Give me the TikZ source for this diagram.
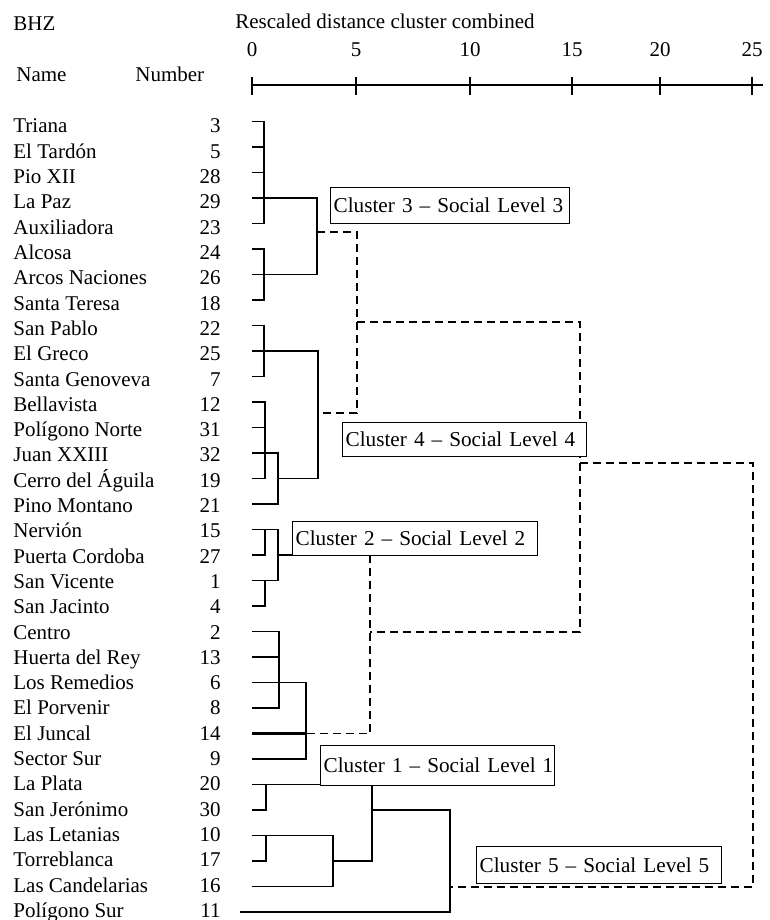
\documentclass[tikz,border=0pt]{standalone}
\usepackage{fontspec}
\setmainfont{Liberation Serif}
\begin{document}
\begin{tikzpicture}[x=0.5pt, y=-0.5pt, font=\fontsize{10.5pt}{12.5pt}\selectfont]
    % Styles
    \tikzstyle{headtext} = [anchor=base west, inner sep=0pt]
    \tikzstyle{ticklabel} = [anchor=base, inner sep=0pt]
    \tikzstyle{leafname} = [anchor=base west, inner sep=0pt]
    \tikzstyle{leafnum} = [anchor=base east, inner sep=0pt]
    \tikzstyle{clusterbox} = [rectangle, draw, fill=white, line width=0.7pt,
        anchor=north west, inner xsep=1.5pt, inner ysep=1pt, align=left,
        font=\fontsize{10.6pt}{12.5pt}\selectfont]
    \tikzstyle{dendro} = [line width=0.7pt]
    \tikzstyle{dendrojoin} = [line width=0.7pt, dash pattern=on 4pt off 2.5pt]

    \useasboundingbox (0,0) rectangle (770,920);

    % === HEADER ===
    \node [headtext] (bhz) at (13,31) {BHZ};
    \node [headtext] (title) at (235,29) {Rescaled distance cluster combined};
    \node [headtext] (namehead) at (16,82) {Name};
    \node [headtext] (numhead) at (135,82) {Number};

    % === SCALE ===
    \coordinate (axisstart) at (252,85);
    \coordinate (axisend) at (763,85);
    \draw [dendro] (axisstart) -- (axisend);
    \foreach \v/\x in {0/252, 5/356, 10/470, 15/572, 20/660, 25/752} {
        \node [ticklabel] (tick\v) at (\x,57) {\v};
        \draw [dendro] (\x,77) -- ++(0,18);
    }

    % === LEAVES: district name, number, start of branch ===
    \foreach \nm/\nr [count=\i] in {Triana/3, El Tardón/5, Pio XII/28, La Paz/29,
        Auxiliadora/23, Alcosa/24, Arcos Naciones/26, Santa Teresa/18,
        San Pablo/22, El Greco/25, Santa Genoveva/7, Bellavista/12,
        Polígono Norte/31, Juan XXIII/32, Cerro del Águila/19, Pino Montano/21,
        Nervión/15, Puerta Cordoba/27, San Vicente/1, San Jacinto/4,
        Centro/2, Huerta del Rey/13, Los Remedios/6, El Porvenir/8,
        El Juncal/14, Sector Sur/9, La Plata/20, San Jerónimo/30,
        Las Letanias/10, Torreblanca/17, Las Candelarias/16, Polígono Sur/11} {
        \node [leafname] (name\i) at (13,{133+25.3*(\i-1)}) {\nm};
        \node [leafnum] (num\i) at (221,{133+25.3*(\i-1)}) {\nr};
        \coordinate (leaf\i) at (252,{121.5+25.5*(\i-1)});
    }

    % === JOINTS ===
    \coordinate (j3) at (317,232);
    \coordinate (j4) at (318,413);
    \coordinate (j4b) at (278,478.5);
    \coordinate (j34) at (357,322);
    \coordinate (j2) at (278,555);
    \coordinate (j1) at (306,733.5);
    \coordinate (j12) at (370,632);
    \coordinate (j1234) at (580,463);
    \coordinate (j5) at (450,887);
    \coordinate (j5b) at (333,861);
    \coordinate (j5c) at (372,810);
    \coordinate (jall) at (753,675);

    % === Cluster 3 ===
    \draw [dendro] (leaf1) -- ++(12,0) |- (leaf5);
    \draw [dendro] (leaf2) -- ++(12,0);
    \draw [dendro] (leaf3) -- ++(12,0);
    \draw [dendro] (leaf4) -| (j3) |- (leaf7);
    \draw [dendro] (leaf6) -- ++(12,0) |- (leaf8);

    % === Cluster 4 ===
    \draw [dendro] (leaf9) -- ++(12,0) |- (leaf11);
    \draw [dendro] (leaf10) -| (j4) |- (j4b);
    \draw [dendro] (leaf12) -- ++(13,0) |- (leaf15);
    \draw [dendro] (leaf13) -- ++(13,0);
    \draw [dendro] (leaf14) -| (j4b) |- (leaf16);

    % === Cluster 2 ===
    \draw [dendro] (leaf17) -| (j2) |- (leaf19);
    \draw [dendro] (leaf18) -- ++(13,0) -- ++(0,-25.5);
    \draw [dendro] (leaf20) -- ++(13,0) -- ++(0,-25.5);
    \draw [dendro] (j2) -- (j2 -| j12);

    % === Cluster 1 ===
    \draw [dendro] (leaf21) -- ++(27,0) |- (leaf24);
    \draw [dendro] (leaf22) -- ++(27,0);
    \draw [dendro] (leaf23) -| (j1) |- (leaf26);
    \draw [dendro, line width=1.4pt] (leaf25) -- (j1);

    % === Cluster 5 ===
    \draw [dendro] (leaf28) -- ++(14,0) -- ++(0,-25.5);
    \draw [dendro] (leaf30) -- ++(14,0) -- ++(0,-25.5);
    \draw [dendro] (leaf27) -| (j5c) |- (j5b);
    \draw [dendro] (leaf29) -| (j5b) |- (leaf31);
    \draw [dendro] (j5c) -| (j5) |- (leaf32) -- ++(-12,0);

    % === Joins between clusters ===
    \draw [dendrojoin] (j3) -| (j34) |- (j4);
    \draw [dendrojoin] (j2 -| j12) |- (j1);
    \draw [dendrojoin] (j34) -| (j1234) |- (j12);
    \draw [dendrojoin] (j1234) -| (jall) |- (j5);

    % === Labels ===
    \node [clusterbox, text width=116.5pt, minimum height=18pt] (c3box) at (330,187) {\mbox{Cluster 3 -- Social Level 3}};
    \node [clusterbox, text width=119pt, minimum height=17pt] (c4box) at (342,422) {\mbox{Cluster 4 -- Social Level 4}};
    \node [clusterbox, text width=119.5pt, minimum height=17pt] (c2box) at (292,521) {\mbox{Cluster 2 -- Social Level 2}};
    \node [clusterbox, text width=114pt, minimum height=20pt] (c1box) at (320,745) {\mbox{Cluster 1 -- Social Level 1}};
    \node [clusterbox, text width=119.5pt, minimum height=18.5pt] (c5box) at (476,846) {\mbox{Cluster 5 -- Social Level 5}};

\end{tikzpicture}
\end{document}
